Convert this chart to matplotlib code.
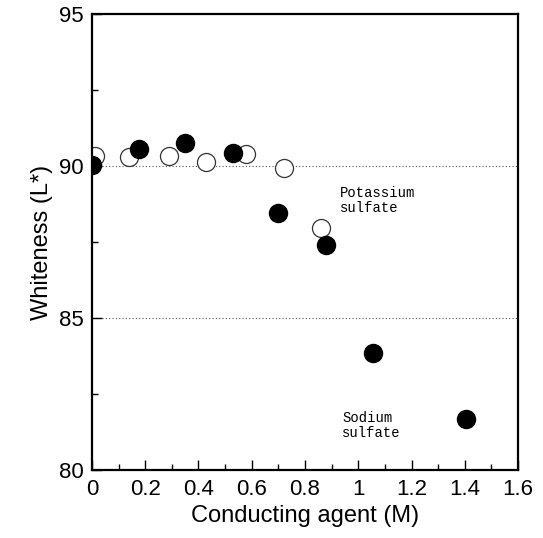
import matplotlib
matplotlib.use("Agg")
import matplotlib.pyplot as plt
from matplotlib.ticker import MultipleLocator

plt.rcParams['font.family'] = ['Liberation Sans', 'DejaVu Sans']

# sodium sulfate (filled circles)
sodium_x = [0.0, 0.175, 0.35, 0.53, 0.70, 0.88, 1.056, 1.406]
sodium_y = [90.05, 90.55, 90.75, 90.42, 88.45, 87.42, 83.86, 81.7]

# potassium sulfate (open circles)
potassium_x = [0.01, 0.14, 0.29, 0.43, 0.58, 0.72, 0.86]
potassium_y = [90.33, 90.3, 90.33, 90.13, 90.4, 89.93, 87.97]

x_ticks = [0, 0.2, 0.4, 0.6, 0.8, 1, 1.2, 1.4, 1.6]
x_tick_labels = ['0', '0.2', '0.4', '0.6', '0.8', '1', '1.2', '1.4', '1.6']
y_ticks = [80, 85, 90, 95]

fig = plt.figure(figsize=(5.43, 5.38), dpi=100)
ax = fig.add_axes([0.1694, 0.126, 0.7846, 0.848])

# dotted reference lines
for yv in [85, 90]:
    ax.axhline(yv, color='#555555', linestyle=(0, (1, 2)), linewidth=0.8, zorder=1)

ax.plot(potassium_x, potassium_y, 'o', markersize=13, markerfacecolor='white',
        markeredgecolor='#333333', markeredgewidth=0.9, zorder=2)
ax.plot(sodium_x, sodium_y, 'o', markersize=13, markerfacecolor='black',
        markeredgecolor='black', zorder=3)

ax.text(0.93, 89.35, 'Potassium\nsulfate', family='Liberation Mono', fontsize=10,
        va='top', ha='left', linespacing=1.1)
ax.text(0.94, 81.95, 'Sodium\nsulfate', family='Liberation Mono', fontsize=10,
        va='top', ha='left', linespacing=1.1)

ax.set_xlim(0, 1.6)
ax.set_ylim(80, 95)
ax.set_xticks(x_ticks)
ax.set_xticklabels(x_tick_labels)
ax.set_yticks(y_ticks)
ax.xaxis.set_minor_locator(MultipleLocator(0.1))
ax.yaxis.set_minor_locator(MultipleLocator(2.5))
ax.tick_params(which='both', direction='in', top=False, right=False, labelsize=16, width=1)
ax.tick_params(which='major', length=7, pad=6)
ax.tick_params(which='minor', length=4)
for s in ax.spines.values():
    s.set_linewidth(1.6)

ax.set_xlabel('Conducting agent (M)', fontsize=17, labelpad=4)
ax.set_ylabel('Whiteness (L*)', fontsize=17, labelpad=4)

fig.savefig('out.png', dpi=100)
